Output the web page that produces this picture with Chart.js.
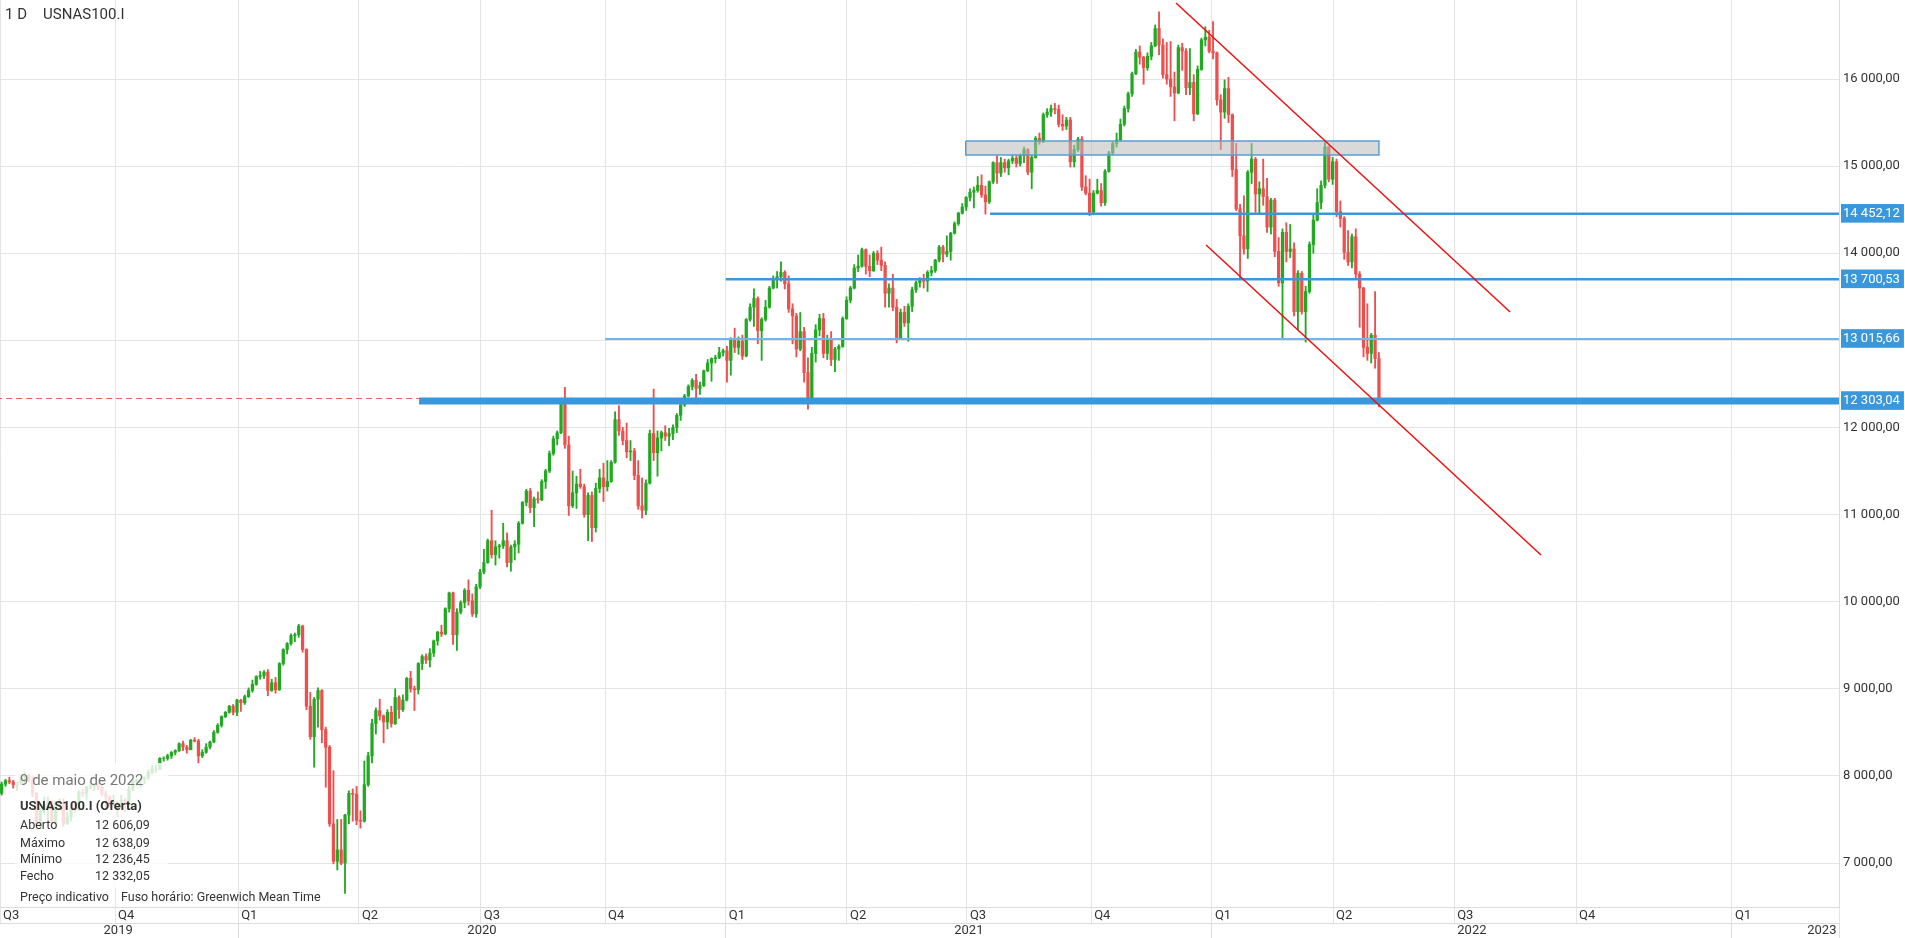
<!DOCTYPE html>
<html>
<head>
<meta charset="utf-8">
<title>USNAS100.I</title>
<script src="https://cdn.jsdelivr.net/npm/chart.js@4/dist/chart.umd.min.js"></script>
<style>
  html, body { margin: 0; padding: 0; background: #fff; }
  #wrap { position: relative; width: 1905px; height: 938px; font-family: Roboto, sans-serif; color: #333; }
  #wrap canvas { position: absolute; left: 0; top: 0; }
  .t { position: absolute; white-space: nowrap; line-height: 16px; }
  #info { position: absolute; left: 15px; top: 763px; width: 153px; height: 125px; background: rgba(255,255,255,0.8); }
</style>
</head>
<body>
<div id="wrap">
  <canvas id="chart" width="1905" height="938"></canvas>
  <div class="t" style="left:5px;top:6px;font-size:15px;">1 D</div>
  <div class="t" style="left:43px;top:6px;font-size:15px;">USNAS100.I</div>
  <div id="info"></div>
  <div class="t" style="left:20px;top:772px;font-size:15px;color:#777;" id="infoDate"></div>
  <div class="t" style="left:20px;top:798px;font-size:13px;font-weight:bold;" id="infoTitle"></div>
  <div id="infoRows"></div>
  <div class="t" style="left:20px;top:889px;font-size:12.5px;">Preço indicativo</div>
  <div class="t" style="left:121px;top:889px;font-size:12.5px;">Fuso horário: Greenwich Mean Time</div>
</div>
<script>
// one candle = 2 trading days, from Jul 2019 to 9 May 2022
const opens = [
  7830,7800,7905,7945,7930,7900,7920,7985,8010,7950,
  7800,7420,7600,7670,7710,7460,7680,7700,7450,7530,
  7630,7610,7810,7800,7870,7880,7890,7870,7790,7760,
  7680,7700,7650,7720,7670,7850,7940,7950,7960,7980,
  8040,8080,8080,8200,8200,8230,8270,8290,8370,8330,
  8300,8410,8400,8230,8270,8330,8390,8500,8580,8680,
  8730,8800,8730,8870,8840,8910,8980,9050,9140,9150,
  9190,8980,9070,8990,9290,9450,9520,9610,9620,9720,
  9450,8800,8450,8880,8980,8530,8330,7450,7020,7150,
  7000,7550,7800,7790,7490,7480,7900,8230,8600,8750,
  8690,8620,8730,8600,8900,8760,8870,9120,9000,8990,
  9290,9370,9330,9410,9550,9650,9630,9920,10100,9620,
  9880,9990,10130,10010,9860,10170,10340,10450,10700,10540,
  10630,10640,10700,10450,10630,10660,10900,11140,11270,11080,
  11180,11170,11380,11500,11700,11870,11940,12280,11800,11100,
  11250,11350,11320,11000,11220,10850,11300,11420,11320,11380,
  11600,12090,11960,11850,11720,11730,11450,11100,11050,11360,
  11930,11710,11880,11940,11900,11930,12000,12140,12260,12360,
  12470,12540,12450,12480,12650,12740,12790,12800,12860,12880,
  12770,13000,12920,12990,12820,13240,13380,13480,13110,13240,
  13380,13600,13700,13730,13780,13650,13360,13280,12900,13100,
  12630,12320,12850,13120,13250,12850,13020,12780,12900,12930,
  13250,13460,13600,13830,13850,14040,13850,13800,14000,13920,
  13860,13540,13600,13380,13030,13320,13200,13390,13580,13660,
  13690,13680,13780,13800,13920,14070,13990,14020,14230,14340,
  14460,14530,14640,14700,14720,14780,14670,14590,14820,15040,
  14920,15040,14980,15060,15090,15030,15120,15190,14930,15100,
  15320,15280,15590,15620,15660,15650,15480,15460,15530,15050,
  15190,15310,14760,14690,14470,14690,14720,14580,14940,15150,
  15260,15300,15480,15660,15830,16060,16310,16250,16130,16260,
  16380,16580,16390,16050,16000,15910,15840,16360,16320,15900,
  15960,15600,16110,16450,16480,16320,16300,15760,15620,15890,
  15590,14960,14510,14200,14050,14930,15080,14680,14740,14650,
  14300,14610,14020,13660,14240,14020,14050,13330,13770,13330,
  13560,14100,14380,14580,14780,15220,14850,15050,14480,14400,
  14010,13900,14190,13760,13600,12920,12850,13060,12790
];
const highs = [
  7860,7930,7960,7985,7950,7930,8000,8040,8020,8000,
  7810,7630,7760,7760,7715,7710,7740,7740,7580,7650,
  7700,7830,7850,7880,7935,7910,7920,7890,7830,7770,
  7780,7710,7780,7740,7880,7960,7970,7990,7990,8070,
  8120,8120,8210,8220,8250,8280,8300,8380,8400,8350,
  8420,8440,8420,8300,8370,8400,8520,8600,8690,8740,
  8810,8820,8880,8880,8930,9010,9100,9150,9200,9210,
  9220,9110,9130,9300,9460,9530,9630,9640,9740,9730,
  9460,8960,8900,9010,8990,8560,8350,8060,7500,7500,
  7560,7830,7850,7880,7600,8170,8270,8650,8780,8880,
  8700,8760,8800,9000,8920,8930,9130,9200,9030,9300,
  9390,9400,9460,9560,9660,9730,9930,10110,10110,9920,
  10010,10150,10250,10090,10200,10370,10600,10720,11050,10700,
  10660,10900,10790,10650,10700,10920,11150,11290,11300,11200,
  11260,11400,11520,11730,11900,11960,12300,12460,11900,11500,
  11440,11520,11350,11250,11260,11360,11520,11590,11620,11620,
  12180,12250,12000,12050,11850,11760,11620,11420,11400,11970,
  12440,11960,11960,12020,11990,12030,12160,12290,12380,12490,
  12560,12610,12520,12660,12780,12800,12830,12920,12900,12930,
  13030,13140,13040,13060,13250,13420,13590,13500,13260,13460,
  13620,13740,13790,13900,13800,13740,13420,13310,13320,13150,
  12800,12920,13180,13300,13310,13060,13100,12920,12950,13270,
  13500,13620,13870,13980,14060,14050,13980,14020,14030,14070,
  13900,13650,13760,13470,13360,13390,13420,13610,13680,13720,
  13760,13800,13850,13930,14090,14090,14200,14240,14360,14470,
  14570,14650,14740,14760,14880,14900,14770,14830,15050,15120,
  15100,15080,15080,15130,15120,15140,15220,15200,15130,15340,
  15380,15610,15660,15700,15720,15700,15590,15560,15560,15240,
  15330,15340,14890,14850,14720,14850,14800,14960,15170,15280,
  15380,15540,15690,15850,16080,16340,16380,16260,16300,16420,
  16620,16770,16460,16420,16430,16080,16390,16410,16350,16350,
  16050,16150,16470,16600,16560,16660,16310,15820,15990,16020,
  15600,15260,14560,14660,14950,15260,15100,14820,15080,14860,
  14630,14630,14180,14280,14350,14330,14120,13800,13790,13620,
  14130,14440,14740,14830,15270,15230,15100,15080,14600,14420,
  14260,14220,14280,13790,13610,13420,13080,13560,12860
];
const lows = [
  7770,7780,7880,7910,7860,7830,7900,7930,7930,7760,
  7380,7390,7560,7500,7420,7450,7620,7420,7440,7480,
  7580,7600,7760,7730,7850,7830,7840,7770,7640,7640,
  7660,7530,7630,7590,7650,7830,7890,7870,7910,7960,
  8020,8040,8070,8170,8180,8200,8240,8280,8290,8260,
  8300,8390,8150,8210,8260,8310,8380,8490,8560,8670,
  8720,8700,8690,8740,8820,8900,8960,9040,9110,9120,
  8920,8970,8950,8980,9270,9400,9500,9540,9590,9420,
  8760,8420,8100,8560,8380,7870,7420,6990,6920,6980,
  6650,7450,7480,7440,7400,7470,7880,8150,8480,8640,
  8380,8540,8560,8590,8660,8740,8860,8960,8750,8940,
  9220,9290,9250,9370,9500,9600,9620,9880,9510,9440,
  9860,9930,9960,9830,9820,10150,10320,10440,10500,10420,
  10500,10610,10400,10350,10480,10560,10890,11100,11020,10860,
  11130,11160,11300,11480,11680,11800,11930,11760,10990,11080,
  11070,11300,10970,10700,10690,10800,11250,11150,11270,11370,
  11590,11910,11800,11650,11620,11400,11060,10960,11000,11350,
  11620,11440,11730,11850,11790,11860,11940,12080,12240,12350,
  12430,12270,12380,12470,12640,12530,12740,12790,12820,12520,
  12600,12860,12840,12780,12810,13220,13160,12960,12770,13220,
  13370,13590,13600,13680,13590,13320,12960,12810,12880,12520,
  12210,12300,12750,13050,12800,12780,12710,12640,12770,12920,
  13240,13430,13590,13790,13840,13760,13730,13790,13870,13800,
  13380,13380,13340,12970,13010,13160,12990,13330,13550,13610,
  13600,13560,13740,13780,13900,13900,13960,13920,14220,14320,
  14450,14490,14600,14520,14700,14640,14450,14570,14800,14800,
  14880,14930,14900,15030,14990,15000,15040,14900,14740,15090,
  15250,15270,15560,15570,15600,15450,15410,15420,14990,14990,
  15170,14720,14670,14430,14440,14680,14540,14550,14930,15130,
  15220,15290,15460,15620,15800,16050,16170,15940,16100,16220,
  16370,16280,16010,15940,15800,15520,15830,16100,15820,15820,
  15520,15590,16100,16380,16300,16230,15700,15190,15550,15500,
  14880,14490,13710,13990,13940,14800,14470,14460,14550,14240,
  14220,13960,13620,13030,13900,13950,13280,13120,13300,12980,
  13540,14000,14370,14510,14750,14820,14790,14420,14300,13930,
  13860,13830,13700,13150,12810,12770,12740,12680,12236
];
const closes = [
  7800,7905,7945,7930,7900,7920,7985,8010,7950,7800,
  7420,7600,7670,7710,7460,7680,7700,7450,7530,7630,
  7610,7810,7800,7870,7880,7890,7870,7790,7760,7680,
  7700,7650,7720,7670,7850,7940,7950,7960,7980,8040,
  8080,8080,8200,8200,8230,8270,8290,8370,8330,8300,
  8410,8400,8230,8270,8330,8390,8500,8580,8680,8730,
  8800,8730,8870,8840,8910,8980,9050,9140,9150,9190,
  8980,9070,8990,9290,9450,9520,9610,9620,9720,9450,
  8800,8450,8880,8980,8530,8330,7450,7020,7150,7000,
  7550,7800,7790,7490,7480,7900,8230,8600,8750,8690,
  8620,8730,8600,8900,8760,8870,9120,9000,8990,9290,
  9370,9330,9410,9550,9650,9630,9920,10100,9620,9880,
  9990,10130,10010,9860,10170,10340,10450,10700,10540,10630,
  10640,10700,10450,10630,10660,10900,11140,11270,11080,11180,
  11170,11380,11500,11700,11870,11940,12280,11800,11100,11250,
  11350,11320,11000,11220,10850,11300,11420,11320,11380,11600,
  12090,11960,11850,11720,11730,11450,11100,11050,11360,11930,
  11710,11880,11940,11900,11930,12000,12140,12260,12360,12470,
  12540,12450,12480,12650,12740,12790,12800,12860,12880,12770,
  13000,12920,12990,12820,13240,13380,13480,13110,13240,13380,
  13600,13700,13730,13780,13650,13360,13280,12900,13100,12630,
  12320,12850,13120,13250,12850,13020,12780,12900,12930,13250,
  13460,13600,13830,13850,14040,13850,13800,14000,13920,13860,
  13540,13600,13380,13030,13320,13200,13390,13580,13660,13690,
  13680,13780,13800,13920,14070,13990,14020,14230,14340,14460,
  14530,14640,14700,14720,14780,14670,14590,14820,15040,14920,
  15040,14980,15060,15090,15030,15120,15190,14930,15100,15320,
  15280,15590,15620,15660,15650,15480,15460,15530,15050,15190,
  15310,14760,14690,14470,14690,14720,14580,14940,15150,15260,
  15300,15480,15660,15830,16060,16310,16250,16130,16260,16380,
  16580,16390,16050,16000,15910,15840,16360,16320,15900,15960,
  15600,16110,16450,16480,16320,16300,15760,15620,15890,15590,
  14960,14510,14200,14050,14930,15080,14680,14740,14650,14300,
  14610,14020,13660,14240,14020,14050,13330,13770,13330,13560,
  14100,14380,14580,14780,15220,14850,15050,14480,14400,14010,
  13900,14190,13760,13600,12920,12850,13060,12790,12332
];

// x axis is in candle units
const quarterTicks = [0.6, 30.4, 62.3, 93.6, 125.2, 157.4, 188.7, 220.1, 251.2, 283.4, 314.7, 346.1, 377.5, 409.1, 449.5];
const quarterLabels = ['Q3','Q4','Q1','Q2','Q3','Q4','Q1','Q2','Q3','Q4','Q1','Q2','Q3','Q4','Q1'];
const yearSeparators = [62.3, 188.7, 314.7, 449.5];
const yearTicks = [31.2, 125.5, 251.7, 382.1, 472.8];
const yearLabels = ['2019','2020','2021','2022','2023'];
const priceTicks = [7000, 8000, 9000, 10000, 11000, 12000, 13000, 14000, 15000, 16000];

// drawn levels: value, first candle
const levelValues = [12303.04, 13015.66, 13700.53, 14452.12];
const levelStarts = [109.2, 157.4, 188.7, 257.2];
const lastPrice = 12332.05;
const zoneRange = [15127, 15288];
const zoneSpan = [250.9, 358.0];
const channelTop = [[305.4, 16872], [392, 13325]];
const channelBottom = [[313.2, 14094], [400, 10536]];

const infoDate = '9 de maio de 2022';
const infoTitle = 'USNAS100.I (Oferta)';
const infoLabels = ['Aberto', 'Máximo', 'Mínimo', 'Fecho'];
const infoValues = ['12 606,09', '12 638,09', '12 236,45', '12 332,05'];

const X_MIN = 0.57, X_MAX = 477.25;
const Y_MIN = 6495, Y_MAX = 16907;
const GREEN = '#22a922', RED = '#ef4e4e';
const BLUE = '#3a97db';

document.getElementById('infoDate').textContent = infoDate;
document.getElementById('infoTitle').textContent = infoTitle;
const rowsTop = [817, 835, 851, 868];
document.getElementById('infoRows').innerHTML = infoLabels.map((l, i) =>
  `<div class="t" style="left:20px;top:${rowsTop[i]}px;font-size:12.5px;">${l}</div>` +
  `<div class="t" style="left:95px;top:${rowsTop[i]}px;font-size:12.5px;">${infoValues[i]}</div>`
).join('');

function fmt(v) {
  const parts = Number(v).toFixed(2).split('.');
  return parts[0].replace(/\B(?=(\d{3})+(?!\d))/g, ' ') + ',' + parts[1];
}

// no extra padding around the plot, the axes sit right on its edges
function noPadding(s) {
  s.paddingTop = 0; s.paddingBottom = 0; s.paddingLeft = 0; s.paddingRight = 0;
}

const candleColors = closes.map((c, k) => c >= opens[k] ? GREEN : RED);
const bodies = closes.map((c, k) => ({ x: k, y: [opens[k], c] }));
const wicks = closes.map((c, k) => ({ x: k, y: [lows[k], highs[k]] }));

function hLine(value, from, color, width, order, dash) {
  return {
    type: 'line', data: [{ x: from, y: value }, { x: X_MAX + 1, y: value }],
    borderColor: color, borderWidth: width, borderDash: dash || [], pointRadius: 0,
    fill: false, order: order, borderCapStyle: 'butt'
  };
}

const datasets = [
  { type: 'line', data: channelTop.map(p => ({ x: p[0], y: p[1] })), borderColor: '#f00f0f', borderWidth: 1.5, pointRadius: 0, fill: false, order: 0 },
  { type: 'line', data: channelBottom.map(p => ({ x: p[0], y: p[1] })), borderColor: '#f00f0f', borderWidth: 1.5, pointRadius: 0, fill: false, order: 0 },
  hLine(levelValues[0], levelStarts[0], BLUE, 7, 1),
  hLine(levelValues[1], levelStarts[1], '#74b5e7', 2, 2),
  hLine(levelValues[2], levelStarts[2], BLUE, 2.5, 2),
  hLine(levelValues[3], levelStarts[3], BLUE, 2.5, 2),
  { type: 'line', data: [
      { x: zoneSpan[0], y: zoneRange[1] }, { x: zoneSpan[1], y: zoneRange[1] },
      { x: zoneSpan[1], y: zoneRange[0] }, { x: zoneSpan[0], y: zoneRange[0] },
      { x: zoneSpan[0], y: zoneRange[1] }],
    borderColor: '#5b9fd3', borderWidth: 1.5, pointRadius: 0, fill: false, order: 3 },
  { type: 'line', data: [{ x: zoneSpan[0], y: zoneRange[1] }, { x: zoneSpan[1], y: zoneRange[1] }],
    borderWidth: 0, pointRadius: 0, fill: '+1', backgroundColor: 'rgba(185,185,185,0.55)', order: 4 },
  { type: 'line', data: [{ x: zoneSpan[0], y: zoneRange[0] }, { x: zoneSpan[1], y: zoneRange[0] }],
    borderWidth: 0, pointRadius: 0, fill: false, order: 4 },
  hLine(lastPrice, X_MIN - 1, '#f05a5a', 1, 5, [6, 4]),
  { type: 'bar', data: bodies, backgroundColor: candleColors, barThickness: 2.6, grouped: false, order: 6 },
  { type: 'bar', data: wicks, backgroundColor: candleColors, barThickness: 1.2, grouped: false, order: 7 }
];

Chart.defaults.font.family = 'Roboto, sans-serif';
Chart.defaults.font.size = 13;
Chart.defaults.color = '#333';

new Chart(document.getElementById('chart'), {
  type: 'bar',
  data: { datasets: datasets },
  options: {
    responsive: false,
    animation: false,
    layout: { padding: 0 },
    plugins: { legend: { display: false }, tooltip: { enabled: false } },
    scales: {
      x: {
        type: 'linear', position: 'bottom', min: X_MIN, max: X_MAX, offset: false, weight: 0,
        afterBuildTicks: s => { s.ticks = quarterTicks.map(v => ({ value: v })).concat([{ value: X_MAX }]); },
        afterFit: s => { s.height = 16; noPadding(s); },
        border: { display: true, color: '#dcdcdc' },
        grid: { offset: false, color: '#e4e4e4', tickLength: 16 },
        ticks: { autoSkip: false, maxRotation: 0, align: 'start', labelOffset: 3, padding: -15,
          callback: (v, i) => quarterLabels[i] || '' }
      },
      x2: {
        type: 'linear', position: 'bottom', min: X_MIN, max: X_MAX, offset: false, weight: 1,
        afterBuildTicks: s => {
          s.ticks = yearSeparators.map(v => ({ value: v, sep: true }))
            .concat([{ value: X_MAX, sep: true }])
            .concat(yearTicks.map((v, i) => ({ value: v, text: yearLabels[i] })));
        },
        afterFit: s => { s.height = 15; noPadding(s); },
        border: { display: true, color: '#dcdcdc' },
        grid: { offset: false, drawOnChartArea: false, tickLength: 15,
          color: c => (c.tick && c.tick.sep) ? '#dcdcdc' : 'rgba(0,0,0,0)' },
        ticks: { autoSkip: false, maxRotation: 0, padding: -15,
          callback: (v, i, t) => t[i].text || '' }
      },
      y: {
        type: 'linear', position: 'right', min: Y_MIN, max: Y_MAX,
        afterBuildTicks: s => {
          s.ticks = priceTicks.map(v => ({ value: v })).concat(levelValues.map(v => ({ value: v, tag: true })));
        },
        afterFit: s => { s.width = 66; noPadding(s); },
        border: { display: true, color: '#dcdcdc' },
        grid: { drawTicks: false, color: c => (c.tick && c.tick.tag) ? 'rgba(0,0,0,0)' : '#e4e4e4' },
        ticks: {
          padding: 4, crossAlign: 'near',
          color: c => (c.tick && c.tick.tag) ? '#ffffff' : '#333',
          showLabelBackdrop: c => !!(c.tick && c.tick.tag),
          backdropColor: BLUE,
          backdropPadding: { top: 2, bottom: 1, left: 2, right: 4 },
          callback: v => fmt(v)
        }
      }
    }
  }
});
</script>
</body>
</html>
